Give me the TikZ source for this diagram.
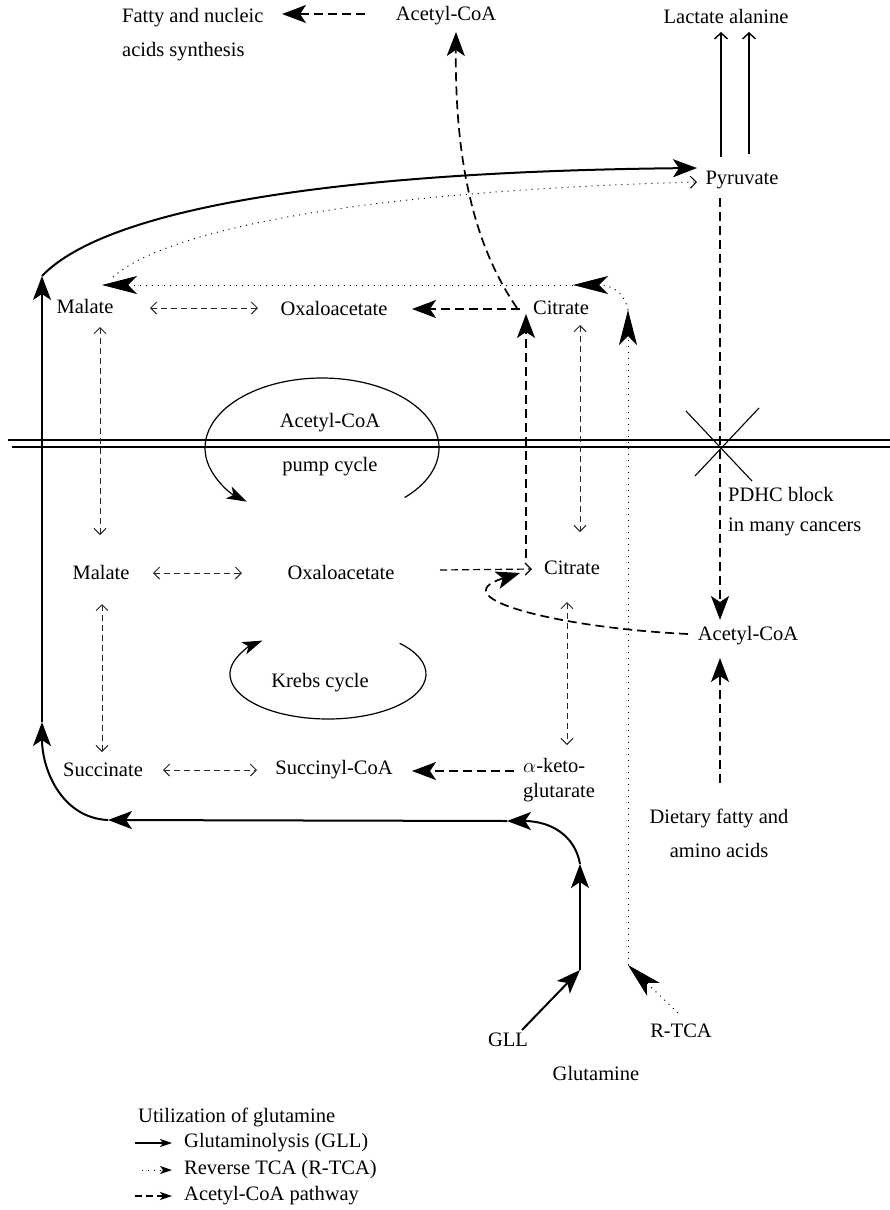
\documentclass[tikz,border=0pt]{standalone}
\usepackage{fontspec}
\setmainfont{Liberation Serif}
\usetikzlibrary{arrows.meta,calc}
\begin{document}
\begin{tikzpicture}[x=1pt,y=-1pt,
 every node/.style={inner sep=0pt,font=\fontsize{20.5}{25}\selectfont},
 bigtip/.style={-{Stealth[length=24pt,width=18pt,inset=6pt]}},
 hugetip/.style={-{Stealth[length=35pt,width=18pt,inset=9pt]}},
 cyctip/.style={-{Stealth[length=20pt,width=13pt,inset=5pt]}},
 smalltip/.style={-{Stealth[length=12pt,width=8pt,inset=3pt]}},
 opentip/.style={-{Straight Barb[length=6pt,width=12pt]}},
 glline/.style={line width=2pt,bigtip},
 acp/.style={line width=1.7pt,dash pattern=on 9pt off 5pt},
 rtca/.style={line width=1pt,dash pattern=on 1pt off 5pt},
 dmid/.style={line width=1.2pt,dash pattern=on 7pt off 4pt},
 dbl/.style={line width=1pt,black!85,dash pattern=on 6pt off 4pt,{Straight Barb[length=6pt,width=12pt]}-{Straight Barb[length=6pt,width=12pt]}},
 thinup/.style={line width=1.4pt,-{Straight Barb[length=6pt,width=13pt]}},
]
\fill[white] (0,0) rectangle (890,1210);
\useasboundingbox (0,0) rectangle (890,1210);

% nodes
\node (fatty) [anchor=west,align=left] at (122,35) {Fatty and nucleic\\[9pt]acids synthesis};
\node (acetop) at (446,16) {Acetyl-CoA};
\node (lactate) at (726,16) {Lactate alanine};
\node (pyr) at (742,180) {Pyruvate};
\node (malA) at (85,306) {Malate};
\node (oxaA) at (334,308) {Oxaloacetate};
\node (citA) at (561,308) {Citrate};
\node (pump) [align=center] at (330,445) {Acetyl-CoA\\[19pt]pump cycle};
\node (pdhc) [anchor=west,align=left] at (728,512) {PDHC block\\[5pt]in many cancers};
\node (malB) at (101,572) {Malate};
\node (oxaB) at (341,572) {Oxaloacetate};
\node (citB) at (572,568) {Citrate};
\node (acR) at (748,636) {Acetyl-CoA};
\node (krebs) at (320,683) {Krebs cycle};
\node (succ) at (103,770) {Succinate};
\node (succoa) at (334,770) {Succinyl-CoA};
\node (akg) [anchor=west,align=left] at (523,780) {$\alpha$-keto-\\glutarate};
\node (diet) [align=center] at (719,833) {Dietary fatty and\\[9pt]amino acids};
\node (gllt) at (508,1040) {GLL};
\node (glut) at (596,1073) {Glutamine};
\node (rtcat) at (681,1031) {R-TCA};

% membrane
\draw[line width=1.3pt] (8,440) -- (890,440);
\draw[line width=1.3pt] (12,447) -- (890,447);
% block cross
\draw[line width=1.1pt] (686,411) -- (752,481);
\draw[line width=1.1pt] (759,408) -- (695,476);

% cycles
\draw[line width=1.2pt,cyctip] (322,448) ++(45:117 and 70) arc[start angle=45,end angle=-230,x radius=117,y radius=70];
\draw[line width=1.2pt,cyctip] (328,674) ++(-43:98 and 45) arc[start angle=-43,end angle=228,x radius=98,y radius=45];

% acetyl-CoA pathway (dashed)
\draw[acp,bigtip] ($(acetop)+(-81,-2)$) -- ($(fatty.west)+(160,-21)$);
\draw[acp,bigtip] ($(pyr)+(-22,18)$) -- ($(acR)+(-28,-16)$);
\draw[acp,bigtip] ($(diet)+(1,-50)$) -- ($(acR)+(-28,22)$);
\draw[acp,bigtip] ($(acR)+(-60,-2)$) .. controls (560,628) and (440,598) .. ($(citB)+(-52,5)$);
\draw[dmid,opentip] ($(oxaB)+(99,-2)$) -- ($(citB)+(-40,1)$);
\draw[acp,bigtip] ($(citB)+(-46,-10)$) -- ($(citA)+(-35,6)$);
\draw[acp,bigtip] ($(akg.west)+(-9,-9)$) -- ($(succoa)+(78,1)$);
\draw[acp,bigtip] ($(citA)+(-41,1)$) -- ($(oxaA)+(78,1)$);
\draw[acp,bigtip] ($(citA)+(-44,0)$) .. controls (470,240) and (455,150) .. ($(acetop)+(10,16)$);

% reversible steps
\draw[dbl] ($(citA)+(19,17)$) -- ($(citB)+(8,-36)$);
\draw[dbl] ($(citB)+(-5,34)$) -- ($(akg.west)+(44,-35)$);
\draw[dbl] ($(succ)+(60,0)$) -- ($(succoa)+(-77,0)$);
\draw[dbl] ($(malB)+(1,32)$) -- ($(succ)+(-1,-18)$);
\draw[dbl] ($(malB)+(52,1)$) -- ($(oxaB)+(-99,1)$);
\draw[dbl] ($(malA)+(15,21)$) -- ($(malB)+(-1,-37)$);
\draw[dbl] ($(malA)+(65,2)$) -- ($(oxaA)+(-76,0)$);

% pyruvate to lactate / alanine
\draw[thinup] ($(pyr)+(-21,-23)$) -- ($(lactate)+(-5,16)$);
\draw[thinup] ($(pyr)+(7,-26)$) -- ($(lactate)+(23,16)$);

% glutaminolysis (solid)
\coordinate (g1) at (580,970);
\coordinate (g2) at (580,864);
\coordinate (g3) at (507,821);
\coordinate (g4) at (108,820);
\coordinate (g6) at (42,722);
\coordinate (g7) at (42,276);
\draw[glline] ($(gllt)+(14,-10)$) -- (g1);
\draw[glline] (g1) -- (g2);
\draw[glline] (g2) .. controls (575,835) and (550,821) .. (g3);
\draw[glline] (g3) -- (g4);
\draw[glline] (g4) .. controls (62,818) and (42,770) .. (g6);
\draw[glline] (g6) -- (g7);
\draw[glline] (g7) .. controls (100,215) and (300,172) .. ($(pyr)+(-45,-12)$);

% reverse TCA (dotted)
\coordinate (r1) at (628,965);
\coordinate (r2) at (628,310);
\coordinate (r3) at (573,285);
\draw[rtca,hugetip] ($(rtcat)+(-3,-18)$) -- (r1);
\draw[rtca,hugetip] (r1) -- (r2);
\draw[rtca,hugetip] (r2) .. controls (624,292) and (612,285) .. (r3);
\draw[rtca,hugetip] (r3) -- ($(malA)+(17,-21)$);
\draw[rtca,opentip] ($(malA)+(28,-29)$) .. controls (160,235) and (330,192) .. ($(pyr)+(-45,2)$);

% legend
\node (legt) [anchor=west] at (138,1117) {Utilization of glutamine};
\node (leg1) [anchor=west] at (184,1143) {Glutaminolysis (GLL)};
\node (leg2) [anchor=west] at (184,1170) {Reverse TCA (R-TCA)};
\node (leg3) [anchor=west] at (184,1196) {Acetyl-CoA pathway};
\draw[line width=1.8pt,smalltip] ($(leg1.west)+(-49,0)$) -- ($(leg1.west)+(-12,0)$);
\draw[rtca,smalltip] ($(leg2.west)+(-42,0)$) -- ($(leg2.west)+(-12,0)$);
\draw[line width=1.7pt,dash pattern=on 7pt off 4pt,smalltip] ($(leg3.west)+(-49,0)$) -- ($(leg3.west)+(-12,0)$);
\end{tikzpicture}
\end{document}
